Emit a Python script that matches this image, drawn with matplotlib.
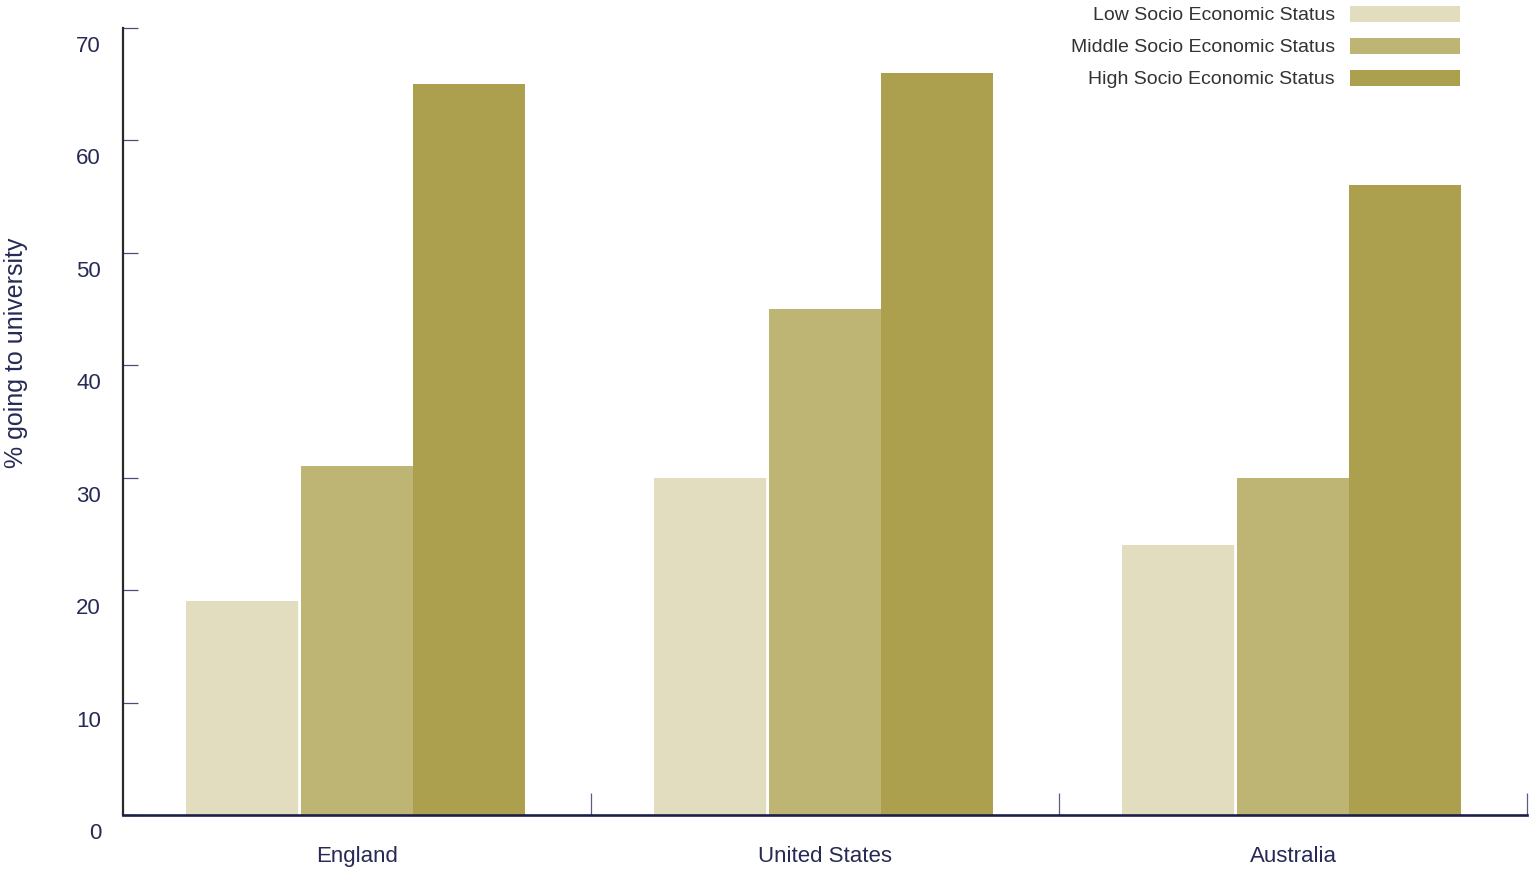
import matplotlib
matplotlib.use("Agg")
import matplotlib.pyplot as plt
import matplotlib.transforms as mtransforms
from matplotlib.patches import Rectangle
import numpy as np

countries = ["England", "United States", "Australia"]
series_names = ["Low Socio Economic Status", "Middle Socio Economic Status", "High Socio Economic Status"]
low = [19, 30, 24]
middle = [31, 45, 30]
high = [65, 66, 56]
yticks = [0, 10, 20, 30, 40, 50, 60, 70]

colors = ["#e2ddbe", "#beb473", "#aca04f"]
navy = "#262a55"

plt.rcParams["font.family"] = ["Liberation Sans", "DejaVu Sans"]

W, H = 1529, 869
fig = plt.figure(figsize=(W / 100, H / 100), dpi=100)
ax = fig.add_axes([123 / W, 54 / H, 1404 / W, 787 / H])

x = np.arange(len(countries))
offsets = [-0.2445, -0.0005, 0.2385]
widths = [0.2415, 0.2395, 0.2395]
for vals, c, off, w in zip([low, middle, high], colors, offsets, widths):
    ax.bar(x + off, vals, width=w, color=c, linewidth=0, zorder=2)
# thin white separator between low and middle bars
for xi, v in zip(x, low):
    xs = xi + offsets[0] + widths[0] / 2
    ax.plot([xs, xs], [0, v], color="white", lw=1.2, zorder=3)

ax.set_xlim(-0.5, 2.5)
ax.set_ylim(0, 70)

for s in ["top", "right"]:
    ax.spines[s].set_visible(False)
ax.spines["left"].set_color("#2a2a2a")
ax.spines["left"].set_linewidth(1.6)
ax.spines["bottom"].set_color("#1c1f4a")
ax.spines["bottom"].set_linewidth(1.9)
ax.spines["bottom"].set_zorder(4)

ax.set_yticks(yticks)
ax.set_yticklabels([str(t) for t in yticks])
ax.tick_params(axis="y", direction="in", length=11, width=0.9, color="#4a4e78",
               pad=15.8, labelsize=16, labelcolor=navy)
offset = mtransforms.ScaledTranslation(0, -16 / 100, fig.dpi_scale_trans)
for lab in ax.get_yticklabels():
    lab.set_transform(lab.get_transform() + offset)

ax.set_xticks(x)
ax.set_xticklabels(countries)
ax.set_xticks([0.5, 1.5, 2.5], minor=True)
ax.tick_params(axis="x", which="major", length=0, pad=22, labelsize=16, labelcolor=navy)
ax.tick_params(axis="x", which="minor", direction="in", length=16, width=0.9, color="#5a5e80")

ylab = ax.set_ylabel("% going to university", fontsize=18, color=navy)
ylab.set_va("center")
ylab.set_ha("center")
ax.yaxis.set_label_coords(-0.0762, 0.587)

# legend (drawn in pixel coordinates)
rows_y = [16, 48, 80]
for name, c, yy in zip(series_names, colors, rows_y):
    fig.text(1335 / W, 1 - yy / H, name, ha="right", va="center", fontsize=14, color="#333333")
    fig.patches.append(Rectangle((1350 / W, 1 - (yy + 6) / H), 110 / W, 16 / H,
                                 transform=fig.transFigure, facecolor=c, edgecolor="none"))

fig.savefig("out.png", dpi=100)
